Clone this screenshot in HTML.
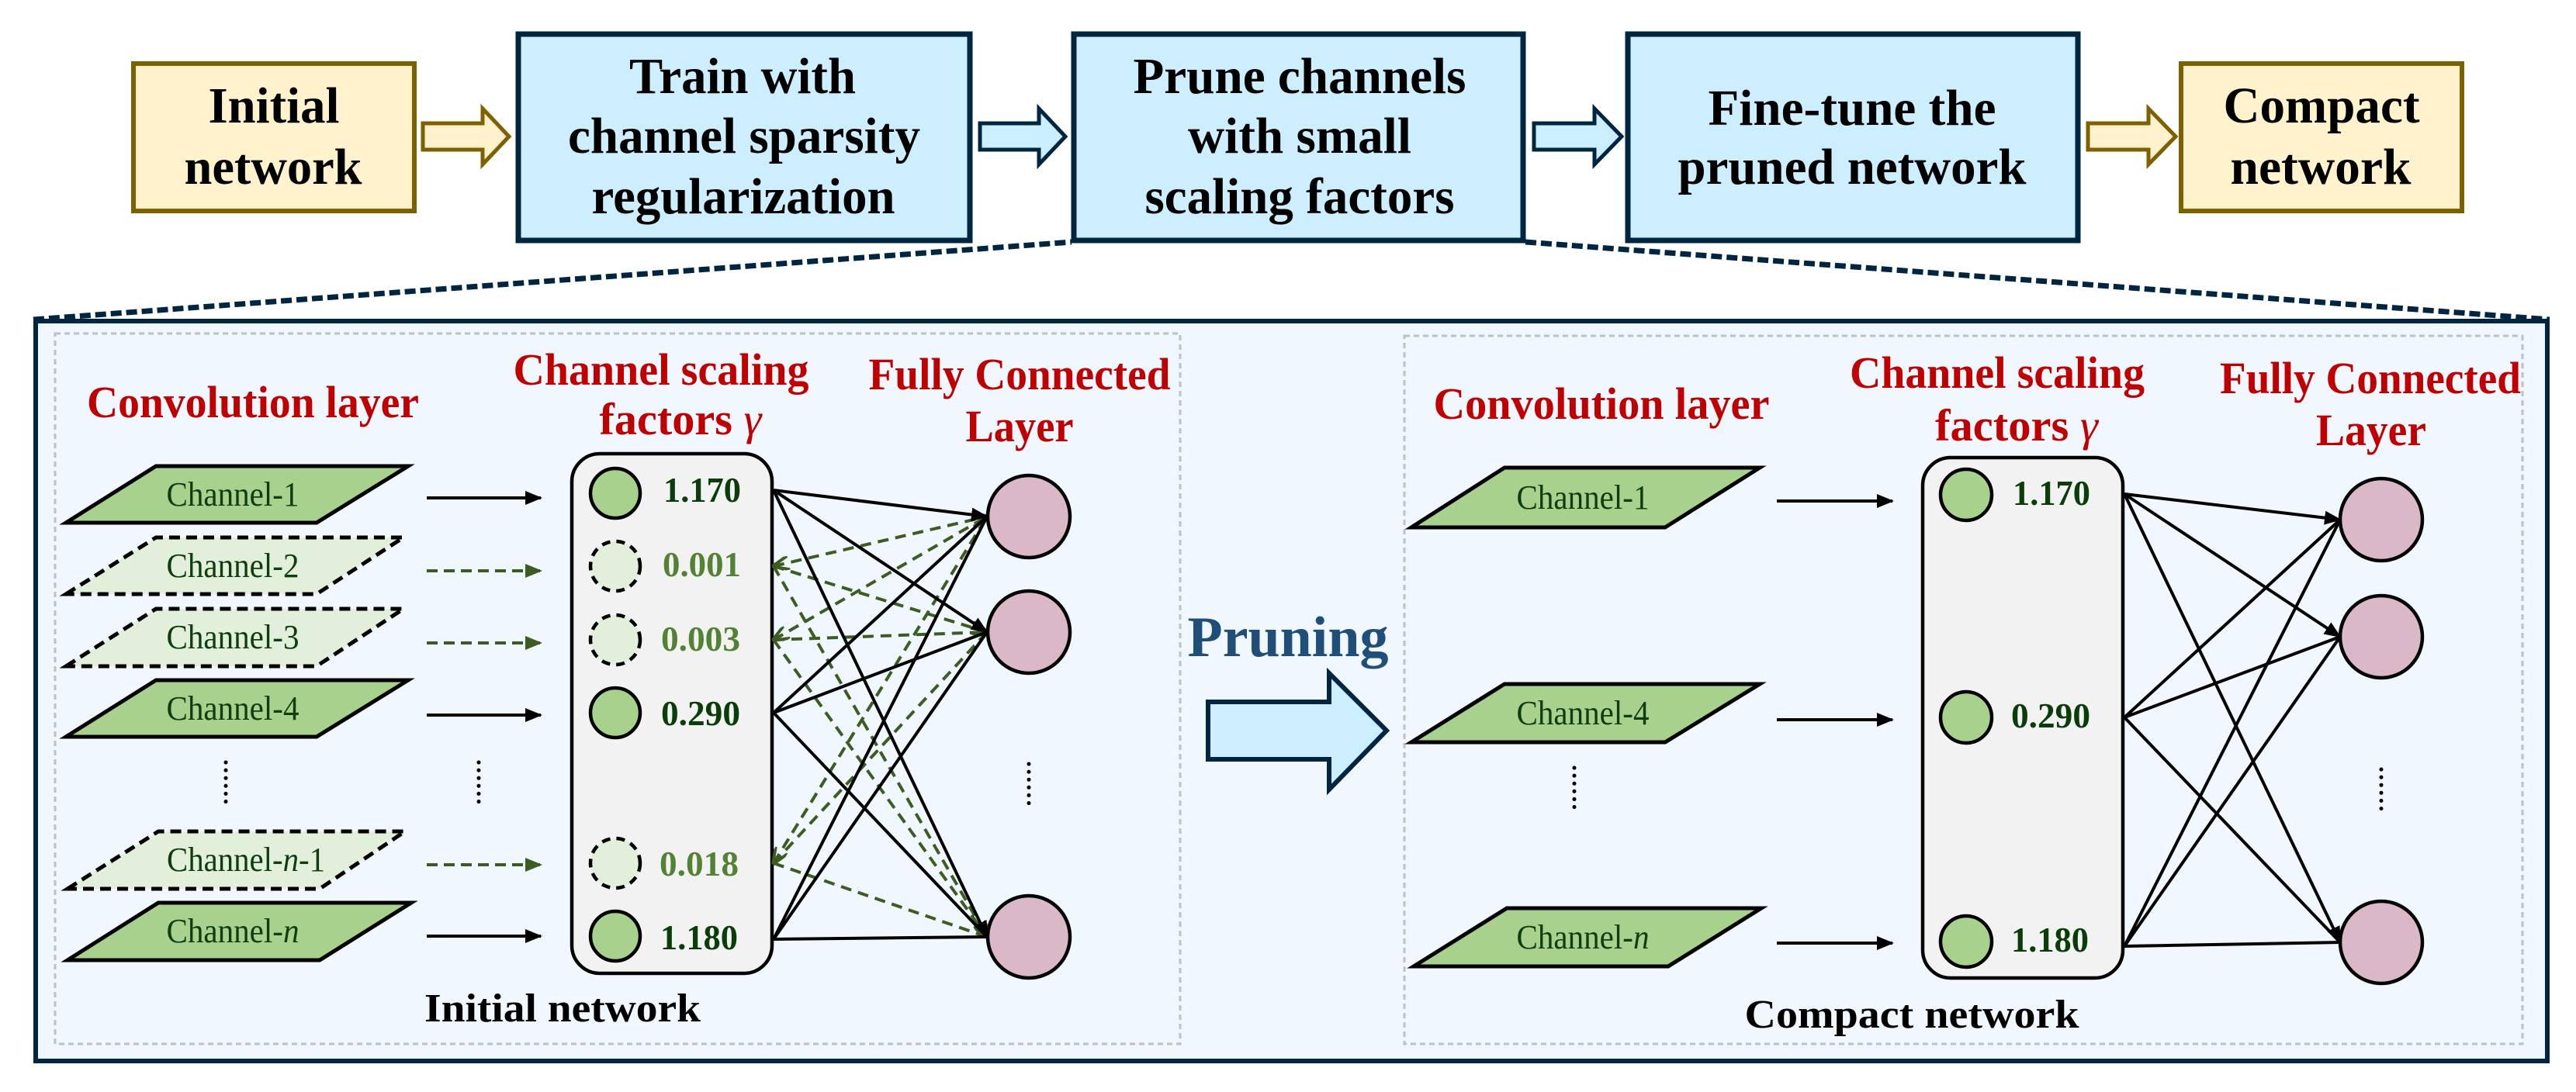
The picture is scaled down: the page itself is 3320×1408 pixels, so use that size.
<!DOCTYPE html>
<html><head><meta charset="utf-8"><style>
html,body{margin:0;padding:0;background:#fff;}
svg{display:block;}
text{font-family:"Liberation Serif","Times New Roman",serif;}
</style></head><body>
<svg width="3320" height="1408" viewBox="0 0 3320 1408" xmlns="http://www.w3.org/2000/svg" font-family="Liberation Serif, serif">
<defs>
<marker id="abk" markerWidth="22" markerHeight="18" refX="20" refY="9" orient="auto" markerUnits="userSpaceOnUse"><path d="M0,0 L22,9 L0,18 z" fill="#000"/></marker>
<marker id="ag" markerWidth="22" markerHeight="18" refX="20" refY="9" orient="auto" markerUnits="userSpaceOnUse"><path d="M0,0 L22,9 L0,18 z" fill="#3d5c1f"/></marker>
<marker id="ags" markerWidth="22" markerHeight="18" refX="2" refY="9" orient="auto" markerUnits="userSpaceOnUse"><path d="M22,0 L0,9 L22,18" fill="none" stroke="#3d5c1f" stroke-width="4"/></marker>
<marker id="agd" markerWidth="22" markerHeight="18" refX="20" refY="9" orient="auto" markerUnits="userSpaceOnUse"><path d="M0,0 L22,9 L0,18" fill="none" stroke="#3d5c1f" stroke-width="4"/></marker>
</defs>

<line x1="43" y1="412" x2="1381" y2="312" stroke="#002540" stroke-width="7" stroke-dasharray="14,6"/>
<line x1="1966" y1="312" x2="3286" y2="412" stroke="#002540" stroke-width="7" stroke-dasharray="14,6"/>

<rect x="172" y="82" width="362" height="190" fill="#fff2cc" stroke="#7f6000" stroke-width="6"/>
<rect x="668" y="44" width="582" height="266" fill="#cdeeff" stroke="#002540" stroke-width="7"/>
<rect x="1384" y="44" width="579" height="266" fill="#cdeeff" stroke="#002540" stroke-width="7"/>
<rect x="2098" y="44" width="580" height="266" fill="#cdeeff" stroke="#002540" stroke-width="7"/>
<rect x="2811" y="82" width="362" height="190" fill="#fff2cc" stroke="#7f6000" stroke-width="6"/>

<path d="M545,159 L622,159 L622,140 L656,176 L622,212 L622,193 L545,193 z" fill="#fff2cc" stroke="#7f6000" stroke-width="5"/>
<path d="M1263,159 L1339,159 L1339,140 L1373,176 L1339,212 L1339,193 L1263,193 z" fill="#cdeeff" stroke="#002540" stroke-width="5"/>
<path d="M1977,159 L2055,159 L2055,140 L2090,176 L2055,212 L2055,193 L1977,193 z" fill="#cdeeff" stroke="#002540" stroke-width="5"/>
<path d="M2691,159 L2769,159 L2769,140 L2804,176 L2769,212 L2769,193 L2691,193 z" fill="#fff2cc" stroke="#7f6000" stroke-width="5"/>

<g font-weight="bold" font-size="66" text-anchor="middle" fill="#000" lengthAdjust="spacingAndGlyphs">
<text x="353" y="158" textLength="169" lengthAdjust="spacingAndGlyphs">Initial</text>
<text x="352" y="237" textLength="229" lengthAdjust="spacingAndGlyphs">network</text>
<text x="957" y="120" textLength="292" lengthAdjust="spacingAndGlyphs">Train with</text>
<text x="959" y="197" textLength="454" lengthAdjust="spacingAndGlyphs">channel sparsity</text>
<text x="958" y="275" textLength="391" lengthAdjust="spacingAndGlyphs">regularization</text>
<text x="1675" y="120" textLength="429" lengthAdjust="spacingAndGlyphs">Prune channels</text>
<text x="1675" y="197" textLength="288" lengthAdjust="spacingAndGlyphs">with small</text>
<text x="1675" y="275" textLength="399" lengthAdjust="spacingAndGlyphs">scaling factors</text>
<text x="2387" y="161" textLength="371" lengthAdjust="spacingAndGlyphs">Fine-tune the</text>
<text x="2387" y="237" textLength="449" lengthAdjust="spacingAndGlyphs">pruned network</text>
<text x="2992" y="158" textLength="253" lengthAdjust="spacingAndGlyphs">Compact</text>
<text x="2991" y="237" textLength="233" lengthAdjust="spacingAndGlyphs">network</text>
</g>

<rect x="46" y="414" width="3237" height="954" fill="#f0f7ff" stroke="#002540" stroke-width="6"/>
<rect x="71" y="430" width="1450" height="916" fill="none" stroke="#c0c0c0" stroke-width="3" stroke-dasharray="7,5"/>
<rect x="1810" y="433" width="1441" height="913" fill="none" stroke="#c0c0c0" stroke-width="3" stroke-dasharray="7,5"/>

<g font-weight="bold" font-size="58" fill="#c00000" text-anchor="middle">
<text x="326" y="538" textLength="428" lengthAdjust="spacingAndGlyphs">Convolution layer</text>
<text x="852" y="496" textLength="381" lengthAdjust="spacingAndGlyphs">Channel scaling</text>
<text x="877" y="560" textLength="209" lengthAdjust="spacingAndGlyphs">factors <tspan font-style="italic" font-weight="normal">γ</tspan></text>
<text x="1314" y="502" textLength="389" lengthAdjust="spacingAndGlyphs">Fully Connected</text>
<text x="1314" y="569" textLength="139" lengthAdjust="spacingAndGlyphs">Layer</text>
<text x="2064" y="540" textLength="433" lengthAdjust="spacingAndGlyphs">Convolution layer</text>
<text x="2574" y="500" textLength="380" lengthAdjust="spacingAndGlyphs">Channel scaling</text>
<text x="2599" y="568" textLength="210" lengthAdjust="spacingAndGlyphs">factors <tspan font-style="italic" font-weight="normal">γ</tspan></text>
<text x="3055" y="507" textLength="388" lengthAdjust="spacingAndGlyphs">Fully Connected</text>
<text x="3056" y="574" textLength="142" lengthAdjust="spacingAndGlyphs">Layer</text>
</g>

<g stroke="#000" stroke-width="5">
<polygon points="85,674 201,601 526,601 408,674" fill="#a9d18e"/>
<polygon points="85,766 201,693 520,693 408,766" fill="#e2efda" stroke-dasharray="14,8"/>
<polygon points="85,859 201,785 520,785 408,859" fill="#e2efda" stroke-dasharray="14,8"/>
<polygon points="85,950 201,877 526,877 408,950" fill="#a9d18e"/>
<polygon points="87,1146 204,1072 522,1072 412,1146" fill="#e2efda" stroke-dasharray="14,8"/>
<polygon points="87,1238 204,1164 530,1164 412,1238" fill="#a9d18e"/>
</g>
<g font-size="44" fill="#0f3d0f" text-anchor="middle">
<text x="300" y="652" textLength="171" lengthAdjust="spacingAndGlyphs">Channel-1</text>
<text x="300" y="744" textLength="171" lengthAdjust="spacingAndGlyphs">Channel-2</text>
<text x="300" y="836" textLength="171" lengthAdjust="spacingAndGlyphs">Channel-3</text>
<text x="300" y="928" textLength="171" lengthAdjust="spacingAndGlyphs">Channel-4</text>
<text x="317" y="1123" textLength="204" lengthAdjust="spacingAndGlyphs">Channel-<tspan font-style="italic">n</tspan>-1</text>
<text x="300" y="1215" textLength="171" lengthAdjust="spacingAndGlyphs">Channel-<tspan font-style="italic">n</tspan></text>
</g>
<g stroke-width="5" stroke-linecap="round">
<line x1="291" y1="983" x2="291" y2="1042" stroke="#000" stroke-dasharray="0.1,10"/>
<line x1="617" y1="983" x2="617" y2="1042" stroke="#000" stroke-dasharray="0.1,10"/>
<line x1="1326" y1="985" x2="1326" y2="1043" stroke="#000" stroke-dasharray="0.1,10"/>
</g>
<g stroke-width="4">
<line x1="550" y1="642" x2="697" y2="642" stroke="#000" marker-end="url(#abk)"/>
<line x1="550" y1="736" x2="697" y2="736" stroke="#3d5c1f" stroke-dasharray="14,8" marker-end="url(#ag)"/>
<line x1="550" y1="829" x2="697" y2="829" stroke="#3d5c1f" stroke-dasharray="14,8" marker-end="url(#ag)"/>
<line x1="550" y1="922" x2="697" y2="922" stroke="#000" marker-end="url(#abk)"/>
<line x1="550" y1="1115" x2="697" y2="1115" stroke="#3d5c1f" stroke-dasharray="14,8" marker-end="url(#ag)"/>
<line x1="550" y1="1207" x2="697" y2="1207" stroke="#000" marker-end="url(#abk)"/>
</g>
<rect x="737" y="585" width="258" height="670" rx="36" fill="#f2f2f2" stroke="#000" stroke-width="4.5"/>
<g stroke="#000" stroke-width="4.5">
<circle cx="793" cy="636" r="32" fill="#a9d18e"/>
<circle cx="793" cy="730" r="32" fill="#e2efda" stroke-dasharray="11,8"/>
<circle cx="793" cy="825" r="32" fill="#e2efda" stroke-dasharray="11,8"/>
<circle cx="793" cy="919" r="32" fill="#a9d18e"/>
<circle cx="793" cy="1113" r="32" fill="#e2efda" stroke-dasharray="11,8"/>
<circle cx="793" cy="1207" r="32" fill="#a9d18e"/>
</g>
<g font-weight="bold" font-size="46">
<text x="855" y="647" fill="#0b3d0b" textLength="100" lengthAdjust="spacingAndGlyphs">1.170</text>
<text x="854" y="743" fill="#548235" textLength="101" lengthAdjust="spacingAndGlyphs">0.001</text>
<text x="852" y="839" fill="#548235" textLength="102" lengthAdjust="spacingAndGlyphs">0.003</text>
<text x="852" y="935" fill="#0b3d0b" textLength="102" lengthAdjust="spacingAndGlyphs">0.290</text>
<text x="850" y="1129" fill="#548235" textLength="102" lengthAdjust="spacingAndGlyphs">0.018</text>
<text x="851" y="1224" fill="#0b3d0b" textLength="100" lengthAdjust="spacingAndGlyphs">1.180</text>
</g>
<g stroke="#3d5c1f" stroke-width="4" stroke-dasharray="14,9" fill="none">
<line x1="997" y1="730" x2="1272" y2="666" marker-start="url(#ags)" marker-end="url(#agd)"/>
<line x1="997" y1="730" x2="1272" y2="815" marker-end="url(#agd)"/>
<line x1="997" y1="730" x2="1272" y2="1208" marker-end="url(#agd)"/>
<line x1="997" y1="825" x2="1272" y2="666" marker-start="url(#ags)"/>
<line x1="997" y1="825" x2="1272" y2="815"/>
<line x1="997" y1="825" x2="1272" y2="1208"/>
<line x1="997" y1="1113" x2="1272" y2="666" marker-start="url(#ags)"/>
<line x1="997" y1="1113" x2="1272" y2="815"/>
<line x1="997" y1="1113" x2="1272" y2="1208"/>
</g>
<g stroke="#000" stroke-width="4" fill="none">
<line x1="997" y1="632" x2="1272" y2="666" marker-end="url(#abk)"/>
<line x1="997" y1="632" x2="1272" y2="815" marker-end="url(#abk)"/>
<line x1="997" y1="632" x2="1272" y2="1208" marker-end="url(#abk)"/>
<line x1="997" y1="919" x2="1272" y2="666"/>
<line x1="997" y1="919" x2="1272" y2="815"/>
<line x1="997" y1="919" x2="1272" y2="1208"/>
<line x1="997" y1="1211" x2="1272" y2="666"/>
<line x1="997" y1="1211" x2="1272" y2="815"/>
<line x1="997" y1="1211" x2="1272" y2="1208"/>
</g>
<g fill="#dbb8c7" stroke="#000" stroke-width="4.5">
<circle cx="1326" cy="666" r="53"/>
<circle cx="1326" cy="815" r="53"/>
<circle cx="1326" cy="1208" r="53"/>
</g>
<text x="725" y="1317" font-weight="bold" font-size="52" text-anchor="middle" fill="#000" textLength="356" lengthAdjust="spacingAndGlyphs">Initial network</text>

<text x="1660" y="846" font-weight="bold" font-size="74" text-anchor="middle" fill="#1f4e79" textLength="259" lengthAdjust="spacingAndGlyphs">Pruning</text>
<path d="M1557,905 L1713,905 L1713,868 L1787,942 L1713,1018 L1713,979 L1557,979 z" fill="#cdeeff" stroke="#002540" stroke-width="6"/>

<g stroke="#000" stroke-width="5" fill="#a9d18e">
<polygon points="1819,680 1939,603 2268,603 2146,680"/>
<polygon points="1819,957 1939,882 2268,882 2146,957"/>
<polygon points="1822,1246 1942,1171 2270,1171 2150,1246"/>
</g>
<g font-size="44" fill="#0f3d0f" text-anchor="middle">
<text x="2040" y="656" textLength="171" lengthAdjust="spacingAndGlyphs">Channel-1</text>
<text x="2040" y="934" textLength="171" lengthAdjust="spacingAndGlyphs">Channel-4</text>
<text x="2040" y="1223" textLength="171" lengthAdjust="spacingAndGlyphs">Channel-<tspan font-style="italic">n</tspan></text>
</g>
<g stroke-width="5" stroke-linecap="round">
<line x1="2029" y1="990" x2="2029" y2="1049" stroke="#000" stroke-dasharray="0.1,10"/>
<line x1="3069" y1="992" x2="3069" y2="1051" stroke="#000" stroke-dasharray="0.1,10"/>
</g>
<g stroke="#000" stroke-width="4">
<line x1="2290" y1="646" x2="2439" y2="646" marker-end="url(#abk)"/>
<line x1="2290" y1="928" x2="2439" y2="928" marker-end="url(#abk)"/>
<line x1="2290" y1="1216" x2="2439" y2="1216" marker-end="url(#abk)"/>
</g>
<rect x="2478" y="590" width="258" height="671" rx="36" fill="#f2f2f2" stroke="#000" stroke-width="4.5"/>
<g stroke="#000" stroke-width="4.5" fill="#a9d18e">
<circle cx="2534" cy="638" r="33"/>
<circle cx="2534" cy="925" r="33"/>
<circle cx="2534" cy="1214" r="33"/>
</g>
<g font-weight="bold" font-size="46" fill="#0b3d0b">
<text x="2594" y="651" textLength="100" lengthAdjust="spacingAndGlyphs">1.170</text>
<text x="2592" y="938" textLength="102" lengthAdjust="spacingAndGlyphs">0.290</text>
<text x="2592" y="1227" textLength="100" lengthAdjust="spacingAndGlyphs">1.180</text>
</g>
<g stroke="#000" stroke-width="4" fill="none">
<line x1="2738" y1="637" x2="3016" y2="670" marker-end="url(#abk)"/>
<line x1="2738" y1="637" x2="3016" y2="821" marker-end="url(#abk)"/>
<line x1="2738" y1="637" x2="3016" y2="1215" marker-end="url(#abk)"/>
<line x1="2738" y1="925" x2="3016" y2="670"/>
<line x1="2738" y1="925" x2="3016" y2="821"/>
<line x1="2738" y1="925" x2="3016" y2="1215"/>
<line x1="2738" y1="1220" x2="3016" y2="670"/>
<line x1="2738" y1="1220" x2="3016" y2="821"/>
<line x1="2738" y1="1220" x2="3016" y2="1215"/>
</g>
<g fill="#dbb8c7" stroke="#000" stroke-width="4.5">
<circle cx="3069" cy="670" r="53"/>
<circle cx="3069" cy="821" r="53"/>
<circle cx="3069" cy="1215" r="53"/>
</g>
<text x="2464" y="1325" font-weight="bold" font-size="52" text-anchor="middle" fill="#000" textLength="431" lengthAdjust="spacingAndGlyphs">Compact network</text>
</svg>
</body></html>
